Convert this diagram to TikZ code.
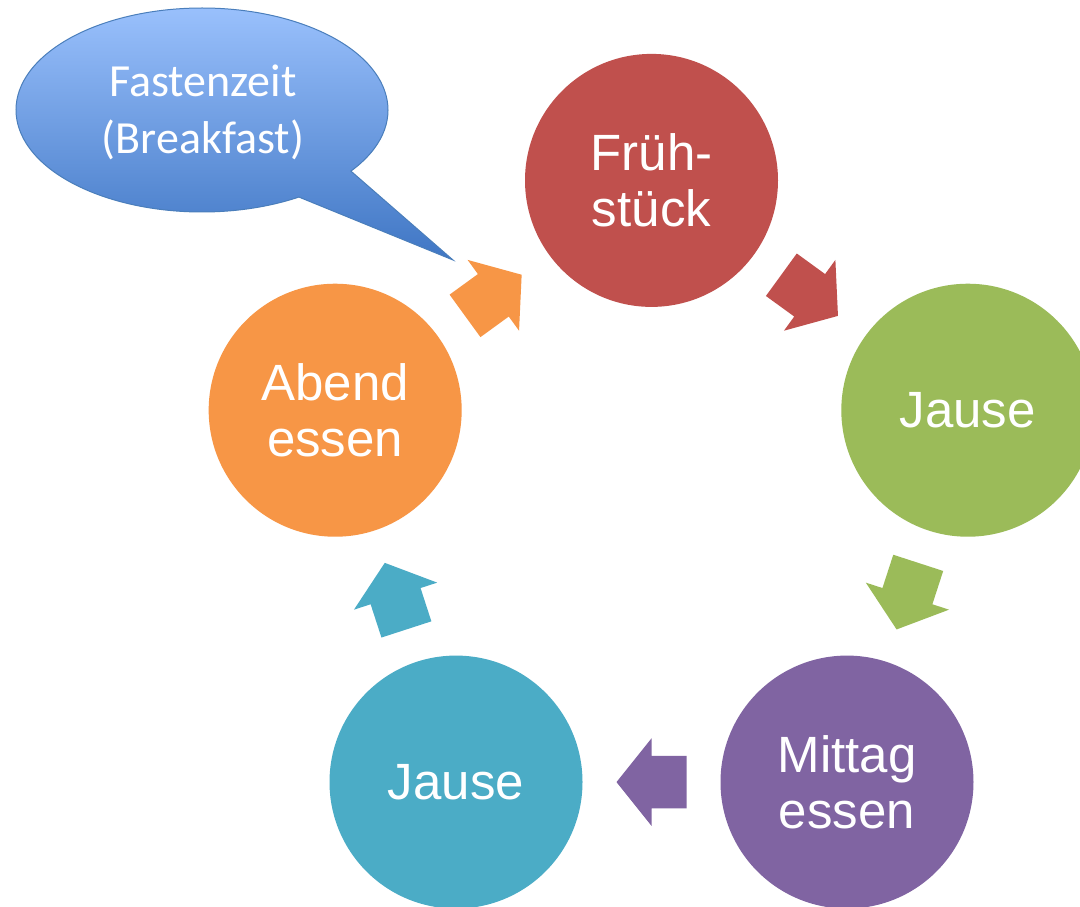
\documentclass[tikz,border=0pt]{standalone}
\usepackage{fontspec}
\newfontfamily\circfont{Liberation Sans}
\newfontfamily\callfont{Carlito}
\usetikzlibrary{calc}
\definecolor{cred}{HTML}{C0504D}
\definecolor{cgreen}{HTML}{9BBB59}
\definecolor{cpurple}{HTML}{8064A2}
\definecolor{cteal}{HTML}{4BACC6}
\definecolor{corange}{HTML}{F79646}
\definecolor{calltop}{HTML}{9EC4FF}
\definecolor{callbot}{HTML}{3F76C4}
\definecolor{callline}{HTML}{4A7EBB}
\tikzset{
  meal/.style={circle, minimum size=253pt, inner sep=0pt, draw=none, fill=#1,
    text=white, align=center, font=\circfont\fontsize{51}{56}\selectfont},
  blockarrow/.style={fill=#1, draw=none},
}
\begin{document}
\begin{tikzpicture}[x=1pt,y=1pt]
\clip (0,0) rectangle (1080,-907);
\fill[white] (0,0) rectangle (1080,-907);
\coordinate (C) at (651.5,-513);
\node[meal=cred]    (fr) at ($(C)+(90:332.6)$)   {Früh-\\stück};
\node[meal=cgreen]  (j1) at ($(C)+(18:332.6)$)   {Jause};
\node[meal=cpurple] (mi) at ($(C)+(-54:332.6)$)  {Mittag\\essen};
\node[meal=cteal]   (j2) at ($(C)+(-126:332.6)$) {Jause};
\node[meal=corange] (ab) at ($(C)+(162:332.6)$)  {Abend\\essen};
% block arrows between consecutive circles
\foreach \a/\b/\ang/\col in {ab/fr/36/corange, fr/j1/-36/cred, j1/mi/-108/cgreen, mi/j2/180/cpurple, j2/ab/108/cteal}{
  \begin{scope}[shift={($(\a)!0.5!(\b)$)}, rotate=\ang]
    \fill[blockarrow=\col] (-35,-26.25) -- (0,-26.25) -- (0,-43.75) -- (35,0)
      -- (0,43.75) -- (0,26.25) -- (-35,26.25) -- cycle;
  \end{scope}
}
% callout
\coordinate (tip) at (453,-260);
\path[draw=callline, line width=1pt, top color=calltop, bottom color=callbot]
  ($(202,-110)+(-36.8:186 and 102)$) arc[start angle=-36.8, end angle=301.4, x radius=186, y radius=102]
  -- (tip) -- cycle;
\node[text=white, align=center, font=\callfont\fontsize{46}{57}\selectfont] (call) at (203,-112) {Fastenzeit\\(Breakfast)};
\end{tikzpicture}
\end{document}
